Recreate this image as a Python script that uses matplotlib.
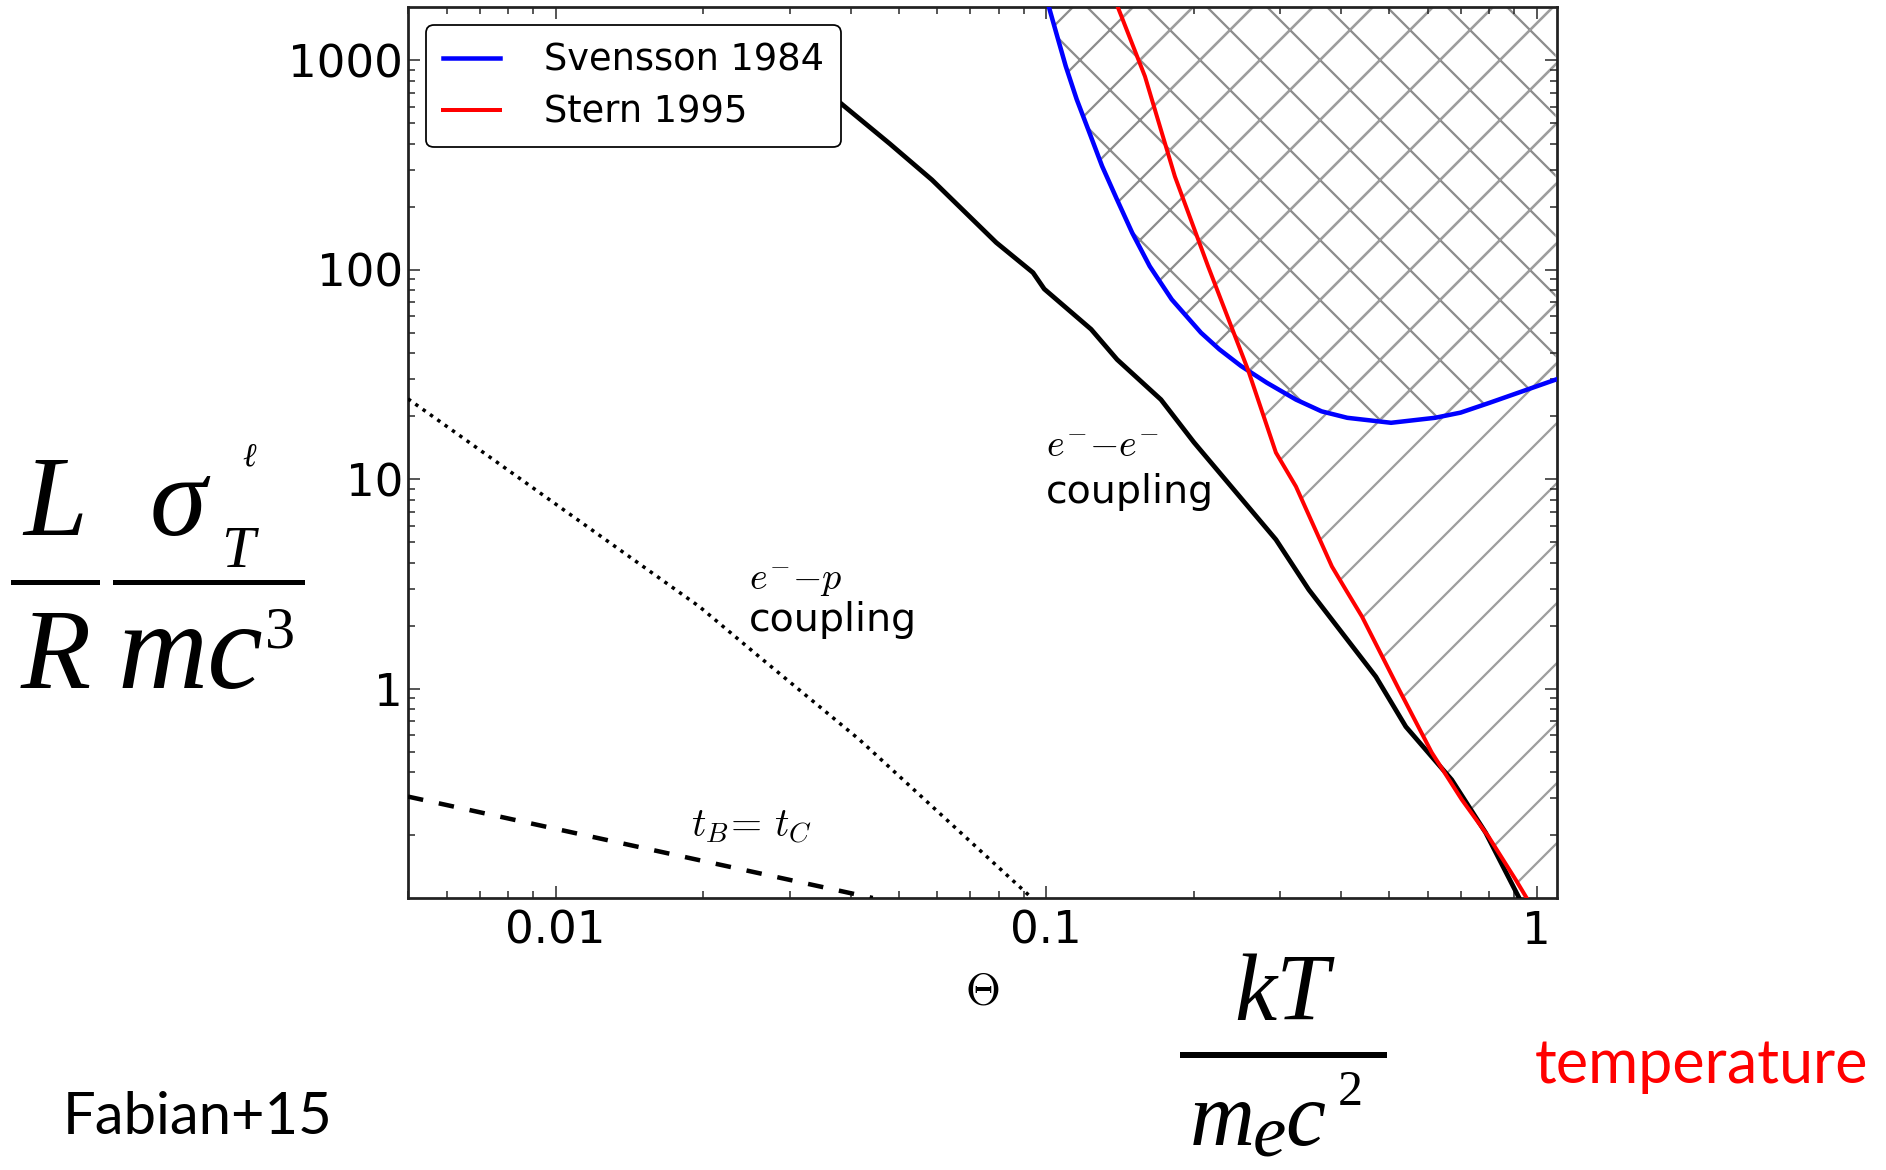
import matplotlib
matplotlib.use("Agg")
import matplotlib.pyplot as plt
from matplotlib.lines import Line2D
from matplotlib.ticker import FixedLocator, FixedFormatter, LogLocator, NullFormatter

# ---- data -------------------------------------------------------------
# e- - e- coupling boundary (solid black)
ee_theta = [0.0299, 0.0377, 0.048, 0.0585, 0.0791, 0.094, 0.0991, 0.1235, 0.1395,
            0.1714, 0.2001, 0.294, 0.343, 0.47, 0.541, 0.671, 0.787, 0.919, 0.93]
ee_lum = [1000, 638, 400, 269, 135, 97, 81, 52, 37.3,
          24.0, 15.0, 5.15, 2.97, 1.14, 0.658, 0.367, 0.205, 0.101, 0.095]

# e- - p coupling boundary (dotted)
ep_theta = [0.005, 0.00573, 0.01965, 0.026, 0.0416, 0.0935]
ep_lum = [24.2, 19.3, 2.46, 1.42, 0.571, 0.1]

# t_B = t_C (dashed)
tb_theta = [0.005, 0.0155, 0.0443]
tb_lum = [0.305, 0.171, 0.1]

# Svensson 1984 pair limit
sv_theta = [0.100, 0.1048, 0.1096, 0.1154, 0.1225, 0.130, 0.1394, 0.1498, 0.1626, 0.1803,
            0.2068, 0.2255, 0.2497, 0.2817, 0.3231, 0.3642, 0.411, 0.5048, 0.6205, 0.6995,
            0.8026, 1.093]
sv_lum = [2000, 1358, 940, 652, 452, 313, 217, 150, 104, 72.2,
          50.1, 41.7, 34.7, 28.9, 24.0, 21.1, 19.65, 18.6, 19.65, 20.8,
          23.2, 29.9]

# Stern 1995 pair limit
st_theta = [0.1375, 0.159, 0.183, 0.2138, 0.2578, 0.294, 0.323, 0.3824, 0.408,
            0.4403, 0.524, 0.611, 0.7036, 0.798, 0.906, 0.954]
st_lum = [2000, 839, 279, 104, 33.4, 13.4, 9.23, 3.83, 2.97,
          2.21, 0.99, 0.495, 0.295, 0.196, 0.1223, 0.1]

x_ticks = [0.01, 0.1, 1]
x_tick_labels = ["0.01", "0.1", "1"]
y_ticks = [1, 10, 100, 1000]
y_tick_labels = ["1", "10", "100", "1000"]
x_limits = (0.005, 1.1)
y_limits = (0.1, 1800)

# ---- figure -----------------------------------------------------------
W, H, DPI = 1887, 1170, 360
plt.rcParams["font.family"] = ["DejaVu Sans"]
plt.rcParams["mathtext.fontset"] = "cm"
plt.rcParams["hatch.linewidth"] = 0.45
plt.rcParams["lines.scale_dashes"] = False

fig = plt.figure(figsize=(W / DPI, H / DPI), dpi=DPI, facecolor="white")
ax = fig.add_axes([408 / W, 1 - 898 / H, (1557 - 408) / W, (898 - 7) / H])
ax.set_xscale("log")
ax.set_yscale("log")
ax.set_xlim(*x_limits)
ax.set_ylim(*y_limits)

# hatched forbidden regions
ax.fill_between(sv_theta, sv_lum, y_limits[1] * 1.2, facecolor="none",
                edgecolor="0.55", hatch="xx", linewidth=0, zorder=1)
ax.fill_betweenx(st_lum, st_theta, x_limits[1] * 1.1, facecolor="none",
                 edgecolor="0.62", hatch="//", linewidth=0, zorder=1)

# curves
ax.plot(ee_theta, ee_lum, color="black", lw=0.95, zorder=3)
ax.plot(ep_theta, ep_lum, color="black", lw=0.7, linestyle=(0, (0.7, 1.1)), zorder=3)
ax.plot(tb_theta, tb_lum, color="black", lw=0.9, linestyle=(0, (3.1, 3.2)), zorder=3)
ax.plot(sv_theta, sv_lum, color="#0000ff", lw=0.9, label="Svensson 1984", zorder=4)
ax.plot(st_theta, st_lum, color="#ff0000", lw=0.8, label="Stern 1995", zorder=4)

# axes styling
for sp in ax.spines.values():
    sp.set_linewidth(0.55)
    sp.set_color("#222222")
ax.xaxis.set_major_locator(FixedLocator(x_ticks))
ax.xaxis.set_major_formatter(FixedFormatter(x_tick_labels))
ax.yaxis.set_major_locator(FixedLocator(y_ticks))
ax.yaxis.set_major_formatter(FixedFormatter(y_tick_labels))
ax.xaxis.set_minor_locator(LogLocator(base=10, subs=range(2, 10), numticks=20))
ax.yaxis.set_minor_locator(LogLocator(base=10, subs=range(2, 10), numticks=20))
ax.xaxis.set_minor_formatter(NullFormatter())
ax.yaxis.set_minor_formatter(NullFormatter())
ax.tick_params(which="both", direction="in", top=True, right=True,
               width=0.3, colors="#222222", labelcolor="black", labelsize=9)
ax.tick_params(which="major", length=2.4)
ax.tick_params(which="minor", length=1.4)
ax.tick_params(axis="x", which="major", pad=2.4)
ax.tick_params(axis="y", which="major", pad=1.0)
ax.set_xlabel(r"$\Theta$", fontsize=9, labelpad=3.5)

leg = ax.legend(loc="upper left", fontsize=7.35, borderaxespad=0.5, borderpad=0.45,
                handlelength=1.55, handletextpad=1.2, labelspacing=0.4,
                fancybox=True, framealpha=1, edgecolor="black")
leg.get_frame().set_linewidth(0.35)
leg.set_zorder(5)

# region annotations
ax.text(0.1, 12.8, r"$e^{-}{-}e^{-}$", fontsize=7.6, ha="left", va="baseline", zorder=6)
ax.text(0.1, 7.74, "coupling", fontsize=7.9, ha="left", va="baseline", zorder=6)
ax.text(0.0248, 2.97, r"$e^{-}{-}p$", fontsize=7.6, ha="left", va="baseline", zorder=6)
ax.text(0.0248, 1.88, "coupling", fontsize=7.9, ha="left", va="baseline", zorder=6)
ax.text(0.0189, 0.196, r"$t_B\!=\,t_C$", fontsize=8, ha="left", va="baseline", zorder=6)


# ---- large symbolic axis captions outside the axes ---------------------
def put(xp, yp, s, size, **kw):
    fig.text(xp / W, 1 - yp / H, s, fontsize=size, ha=kw.pop("ha", "center"),
             va="baseline", **kw)


def bar(x0, x1, yp, lw):
    fig.add_artist(Line2D([x0 / W, x1 / W], [1 - yp / H, 1 - yp / H],
                          transform=fig.transFigure, color="black", lw=lw))


serif = dict(family=["Liberation Serif", "DejaVu Serif"], style="italic")
put(55, 535, "L", 23, **serif)
bar(13, 97, 582, 1.0)
put(56, 688, "R", 23, **serif)
put(178, 535, "σ", 23, **serif)
put(238, 567, "T", 12, **serif)
put(249, 465, "ℓ", 6.5, **serif)
bar(115, 302, 582, 1.0)
put(190, 688, "mc", 25, **serif)
put(280, 648, "3", 12, family=["Liberation Serif"])

put(1282, 1020, "kT", 19, **serif)
bar(1183, 1384, 1055, 1.2)
put(1222, 1145, "m", 18, **serif)
put(1269, 1156, "e", 15, **serif)
put(1305, 1145, "c", 18, **serif)
put(1350, 1105, "2", 10, family=["Liberation Serif"])

put(1535, 1083, "temperature", 12.2, ha="left", color="#ff0000", family=["Lato", "DejaVu Sans"])
put(63, 1134, "Fabian+15", 11.6, ha="left", color="black", family=["Lato", "DejaVu Sans"])

fig.savefig("out.png", dpi=DPI, facecolor="white")
